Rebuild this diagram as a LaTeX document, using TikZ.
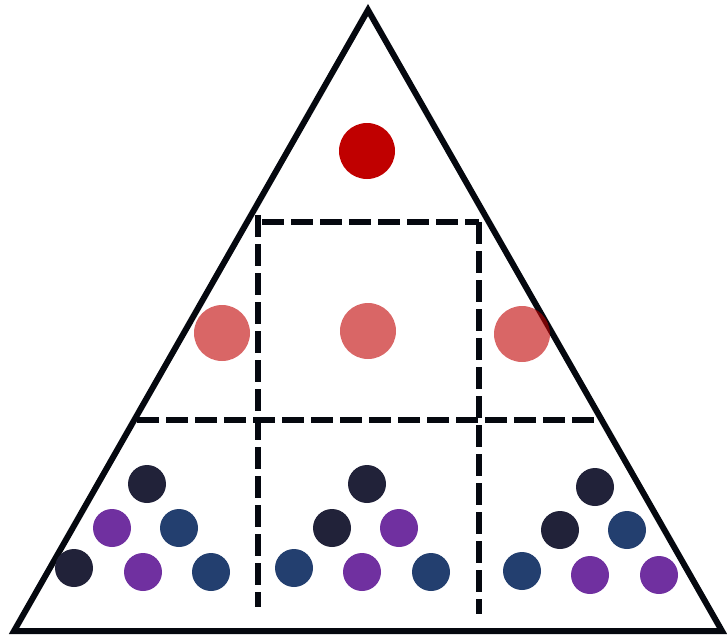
\documentclass[tikz,border=0pt]{standalone}
\definecolor{lineblk}{HTML}{05080F}
\definecolor{topred}{HTML}{C00000}
\definecolor{navy}{HTML}{212239}
\definecolor{dblue}{HTML}{233F6F}
\definecolor{purp}{HTML}{7030A0}
\tikzset{
  tri/.style={draw=lineblk, line width=4.5pt, line join=miter},
  dline/.style={draw=lineblk, line width=4.5pt, dash pattern=on 16.5pt off 5.25pt},
  bigdot/.style={circle, inner sep=0pt, minimum size=42pt},
  smalldot/.style={circle, inner sep=0pt, minimum size=28.5pt},
  lightred/.style={bigdot, fill=topred, fill opacity=0.6},
}
\begin{document}
\begin{tikzpicture}[x=0.75pt, y=-0.75pt]
\useasboundingbox (0,0) rectangle (727,636);
\coordinate (apex) at (368,10);
\coordinate (bl) at (14,631);
\coordinate (br) at (722,631);
\draw[tri] (apex) -- (bl) -- (br) -- cycle;
% dashed grid
\draw[dline] (262,222) -- (479,222);
\draw[dline] (258,215) -- (258,607);
\draw[dline] (479,222) -- (479,614);
\draw[dline] (137,420) -- (600,420);
% top
\node[bigdot, fill=topred] (t) at (367,151) {};
% middle
\node[lightred] (m1) at (222,333) {};
\node[lightred] (m2) at (368,331) {};
\node[lightred] (m3) at (522,334) {};
% bottom left group
\node[smalldot, fill=navy] (a1) at (147,484) {};
\node[smalldot, fill=purp] (a2) at (112,528) {};
\node[smalldot, fill=dblue] (a3) at (179,528) {};
\node[smalldot, fill=navy] (a4) at (74,568) {};
\node[smalldot, fill=purp] (a5) at (143,572) {};
\node[smalldot, fill=dblue] (a6) at (211,572) {};
% bottom middle group
\node[smalldot, fill=navy] (b1) at (367,484) {};
\node[smalldot, fill=navy] (b2) at (332,528) {};
\node[smalldot, fill=purp] (b3) at (399,528) {};
\node[smalldot, fill=dblue] (b4) at (294,568) {};
\node[smalldot, fill=purp] (b5) at (362,572) {};
\node[smalldot, fill=dblue] (b6) at (431,572) {};
% bottom right group
\node[smalldot, fill=navy] (c1) at (595,487) {};
\node[smalldot, fill=navy] (c2) at (560,530) {};
\node[smalldot, fill=dblue] (c3) at (627,530) {};
\node[smalldot, fill=dblue] (c4) at (522,571) {};
\node[smalldot, fill=purp] (c5) at (590,575) {};
\node[smalldot, fill=purp] (c6) at (659,575) {};
\end{tikzpicture}
\end{document}
